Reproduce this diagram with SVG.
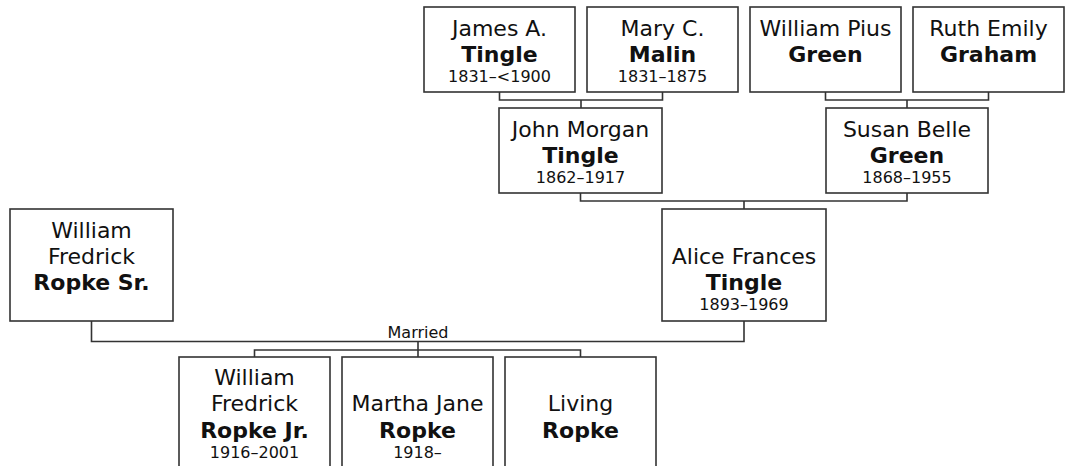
<svg xmlns="http://www.w3.org/2000/svg" width="1066" height="466" viewBox="0 0 1066 466">
<style>
.box{fill:#fff;stroke:#333;stroke-width:1.6}
.ln{fill:none;stroke:#333;stroke-width:1.6}
text{font-family:"DejaVu Sans",Verdana,sans-serif;fill:#111;text-anchor:middle}
.n{font-size:22px}
.b{font-size:22px;font-weight:bold}
.d{font-size:16px}
.m{font-size:16px}
</style>
<rect width="1066" height="466" fill="#fff"/>
<g id="connectors">
<path class="ln" d="M499.5,92 V100 H662.5 V92 M581,100 V108"/>
<path class="ln" d="M825.5,92 V100 H988.5 V92 M907,100 V108"/>
<path class="ln" d="M580.5,193 V201 H907 V193 M744,201 V209"/>
<path class="ln" d="M91.5,321 V341.5 H744 V321"/>
<path class="ln" d="M418,341.5 V357 M254.5,357 V350 H580.5 V357"/>
<text class="m" x="418" y="338">Married</text>
</g>
<g id="james">
<rect class="box" x="424" y="7" width="151" height="85"/>
<text class="n" x="499.5" y="36">James A.</text>
<text class="b" x="499.5" y="62">Tingle</text>
<text class="d" x="499.5" y="82">1831–&lt;1900</text>
</g>
<g id="mary">
<rect class="box" x="587" y="7" width="151" height="85"/>
<text class="n" x="662.5" y="36">Mary C.</text>
<text class="b" x="662.5" y="62">Malin</text>
<text class="d" x="662.5" y="82">1831–1875</text>
</g>
<g id="williampius">
<rect class="box" x="750" y="7" width="151" height="85"/>
<text class="n" x="825.5" y="36">William Pius</text>
<text class="b" x="825.5" y="62">Green</text>
</g>
<g id="ruth">
<rect class="box" x="913" y="7" width="151" height="85"/>
<text class="n" x="988.5" y="36">Ruth Emily</text>
<text class="b" x="988.5" y="62">Graham</text>
</g>
<g id="johnmorgan">
<rect class="box" x="499" y="108" width="163" height="85"/>
<text class="n" x="580.5" y="137">John Morgan</text>
<text class="b" x="580.5" y="163">Tingle</text>
<text class="d" x="580.5" y="183">1862–1917</text>
</g>
<g id="susan">
<rect class="box" x="826" y="108" width="162" height="85"/>
<text class="n" x="907" y="137">Susan Belle</text>
<text class="b" x="907" y="163">Green</text>
<text class="d" x="907" y="183">1868–1955</text>
</g>
<g id="alice">
<rect class="box" x="662" y="209" width="164" height="112"/>
<text class="n" x="744" y="264">Alice Frances</text>
<text class="b" x="744" y="290">Tingle</text>
<text class="d" x="744" y="309.5">1893–1969</text>
</g>
<g id="ropkesr">
<rect class="box" x="10" y="209" width="163" height="112"/>
<text class="n" x="91.5" y="238">William</text>
<text class="n" x="91.5" y="264">Fredrick</text>
<text class="b" x="91.5" y="290">Ropke Sr.</text>
</g>
<g id="ropkejr">
<rect class="box" x="179" y="357" width="151" height="112"/>
<text class="n" x="254.5" y="385">William</text>
<text class="n" x="254.5" y="411">Fredrick</text>
<text class="b" x="254.5" y="438">Ropke Jr.</text>
<text class="d" x="254.5" y="457.5">1916–2001</text>
</g>
<g id="martha">
<rect class="box" x="342" y="357" width="151" height="112"/>
<text class="n" x="417.5" y="411">Martha Jane</text>
<text class="b" x="417.5" y="438">Ropke</text>
<text class="d" x="417.5" y="457.5">1918–</text>
</g>
<g id="living">
<rect class="box" x="505" y="357" width="151" height="112"/>
<text class="n" x="580.5" y="411">Living</text>
<text class="b" x="580.5" y="438">Ropke</text>
</g>
</svg>
